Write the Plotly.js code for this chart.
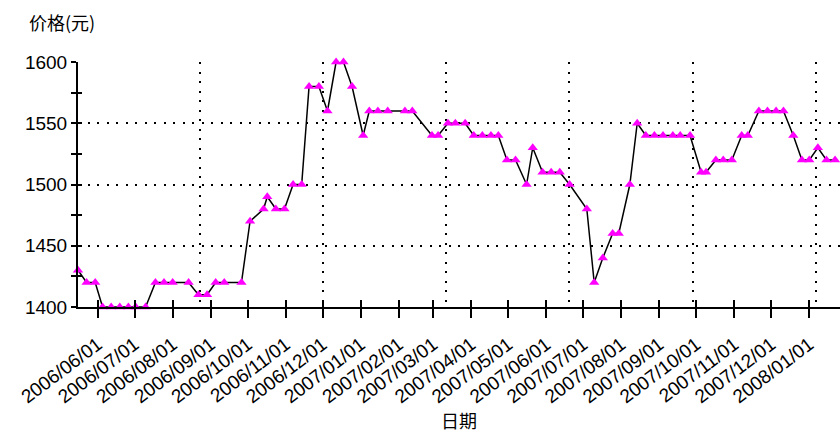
<!DOCTYPE html>
<html>
<head>
<meta charset="utf-8">
<script src="https://cdn.plot.ly/plotly-3.0.1.min.js"></script>
<style>html,body{margin:0;padding:0;background:#fff;}#chart{width:840px;height:434px;}</style>
</head>
<body>
<div id="chart"></div>
<script>
// Data
const dates = [
  "2006-05-16","2006-05-23","2006-05-30","2006-06-05","2006-06-12","2006-06-19","2006-06-26",
  "2006-07-02","2006-07-10","2006-07-18","2006-07-25","2006-08-01","2006-08-14","2006-08-22",
  "2006-08-29","2006-09-05","2006-09-12","2006-09-26","2006-10-03","2006-10-14","2006-10-17",
  "2006-10-24","2006-10-31","2006-11-07","2006-11-14","2006-11-20","2006-11-28","2006-12-05",
  "2006-12-12","2006-12-18","2006-12-25","2007-01-03","2007-01-08","2007-01-15","2007-01-23",
  "2007-02-06","2007-02-12","2007-02-28","2007-03-05","2007-03-13","2007-03-19","2007-03-27",
  "2007-04-03","2007-04-10","2007-04-17","2007-04-23","2007-04-30","2007-05-07","2007-05-16",
  "2007-05-21","2007-05-29","2007-06-05","2007-06-12","2007-06-20","2007-07-04","2007-07-10",
  "2007-07-17","2007-07-25","2007-07-30","2007-08-08","2007-08-14","2007-08-21","2007-08-28",
  "2007-09-04","2007-09-12","2007-09-18","2007-09-26","2007-10-05","2007-10-09","2007-10-17",
  "2007-10-23","2007-10-30","2007-11-07","2007-11-12","2007-11-21","2007-11-28","2007-12-05",
  "2007-12-11","2007-12-19","2007-12-26","2008-01-01","2008-01-08","2008-01-15","2008-01-22"
];
const prices = [
  1430,1420,1420,1400,1400,1400,1400,
  1400,1400,1420,1420,1420,1420,1410,
  1410,1420,1420,1420,1470,1480,1490,
  1480,1480,1500,1500,1580,1580,1560,
  1600,1600,1580,1540,1560,1560,1560,
  1560,1560,1540,1540,1550,1550,1550,
  1540,1540,1540,1540,1520,1520,1500,
  1530,1510,1510,1510,1500,1480,1420,
  1440,1460,1460,1500,1550,1540,1540,
  1540,1540,1540,1540,1510,1510,1520,
  1520,1520,1540,1540,1560,1560,1560,
  1560,1540,1520,1520,1530,1520,1520
];
const yTitle = "价格(元)";
const xTitle = "日期";
const xRange = ["2006-05-16", "2008-01-26"];
const yRange = [1400, 1600];

const DAY = 86400000;
const baseFont = {family: "'Liberation Sans', Arial, sans-serif", size: 19, color: "#000"};
const cjkFont = {family: "'Noto Sans CJK SC', sans-serif", size: 17, color: "#000"};

const traces = [
  {
    x: dates, y: prices, xaxis: "x", yaxis: "y",
    type: "scatter", mode: "lines+markers",
    line: {color: "#000", width: 1.5},
    marker: {symbol: "triangle-up", size: 9, color: "#ff00ff", line: {width: 0}},
    cliponaxis: false, hoverinfo: "x+y"
  },
  {x: dates, y: prices, xaxis: "x2", yaxis: "y", type: "scatter", mode: "markers",
   marker: {opacity: 0}, hoverinfo: "skip", showlegend: false},
  {x: dates, y: prices, xaxis: "x3", yaxis: "y", type: "scatter", mode: "markers",
   marker: {opacity: 0}, hoverinfo: "skip", showlegend: false},
  {x: dates, y: prices, xaxis: "x", yaxis: "y2", type: "scatter", mode: "markers",
   marker: {opacity: 0}, hoverinfo: "skip", showlegend: false}
];

const dotGrid = {showgrid: true, gridcolor: "#000", gridwidth: 2, griddash: "2px,7.5px"};

const layout = {
  width: 840, height: 434,
  margin: {l: 78, r: 0, t: 62, b: 127, pad: 0},
  paper_bgcolor: "#fff", plot_bgcolor: "#fff",
  showlegend: false,
  font: baseFont,
  xaxis: {
    type: "date", range: xRange, anchor: "y",
    tick0: "2006-06-01", dtick: "M1", tickformat: "%Y/%m/%d",
    tickangle: -37, tickfont: {family: baseFont.family, size: 19, color: "#000"},
    ticklabelstandoff: 8,
    ticks: "outside", ticklen: 9, tickwidth: 2, tickcolor: "#000",
    showgrid: false, zeroline: false,
    showline: true, linecolor: "#000", linewidth: 2,
    automargin: false, fixedrange: true
  },
  xaxis2: Object.assign({
    type: "date", range: xRange, overlaying: "x", anchor: "y",
    tick0: "2006-08-23", dtick: 100.3 * DAY,
    ticks: "", showticklabels: false, showline: false, zeroline: false,
    automargin: false
  }, dotGrid),
  xaxis3: {
    type: "date", range: xRange, overlaying: "x", anchor: "y",
    tick0: "2006-06-01", dtick: "M1",
    ticks: "inside", ticklen: 7, tickwidth: 2, tickcolor: "#000",
    showticklabels: false, showgrid: false, showline: false, zeroline: false,
    automargin: false
  },
  yaxis: Object.assign({
    range: yRange, anchor: "x", dtick: 50, tick0: 1400,
    ticks: "outside", ticklen: 5, tickwidth: 2, tickcolor: "#000",
    minor: {dtick: 25, ticks: "outside", ticklen: 5, tickwidth: 2, tickcolor: "#000", showgrid: false},
    tickfont: baseFont,
    zeroline: false,
    showline: true, linecolor: "#000", linewidth: 2,
    automargin: false, fixedrange: true
  }, dotGrid),
  yaxis2: {
    range: yRange, overlaying: "y", anchor: "x", side: "left",
    dtick: 50, tick0: 1400,
    ticks: "inside", ticklen: 4, tickwidth: 2, tickcolor: "#000",
    minor: {dtick: 25, ticks: "inside", ticklen: 4, tickwidth: 2, tickcolor: "#000", showgrid: false},
    showticklabels: false, showgrid: false, showline: false, zeroline: false,
    automargin: false
  },
  annotations: [
    {text: yTitle, xref: "paper", yref: "paper", x: -0.021, y: 1.163,
     xanchor: "center", yanchor: "middle", showarrow: false, font: {family: cjkFont.family, size: 18, color: "#000"}},
    {text: xTitle, xref: "paper", yref: "paper", x: 0.5, y: -0.461,
     xanchor: "center", yanchor: "middle", showarrow: false, font: {family: cjkFont.family, size: 18, color: "#000"}}
  ]
};

Plotly.newPlot("chart", traces, layout, {displayModeBar: false, staticPlot: true});
</script>
</body>
</html>
